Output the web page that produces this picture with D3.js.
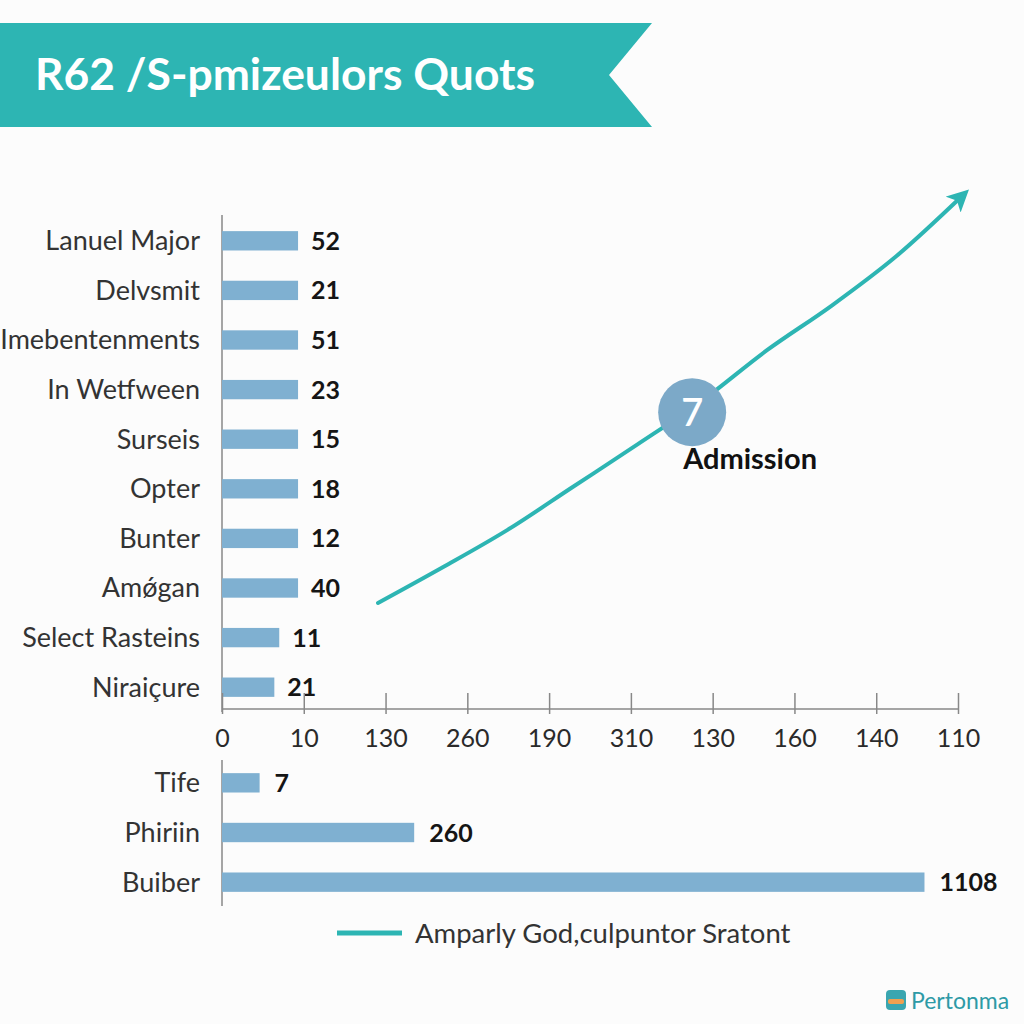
<!DOCTYPE html>
<html>
<head>
<meta charset="utf-8">
<script src="https://cdn.jsdelivr.net/npm/d3@7"></script>
<style>
  html, body { margin: 0; padding: 0; background: #fcfcfc; }
  svg { display: block; font-family: Lato, "Open Sans", sans-serif; }
</style>
</head>
<body>
<svg id="chart" width="1024" height="1024"></svg>
<script>
// ---------- data ----------
const titleText = "R62 /S-pmizeulors Quots";

const topCategories = ["Lanuel Major", "Delvsmit", "Imebentenments", "In Wetfween", "Surseis",
                       "Opter", "Bunter", "Amǿgan", "Select Rasteins", "Niraiçure"];
const topLabels = [52, 21, 51, 23, 15, 18, 12, 40, 11, 21];
// bar extents read in axis-tick units
const topExtents = [0.93, 0.93, 0.93, 0.93, 0.93, 0.93, 0.93, 0.93, 0.70, 0.64];

const bottomCategories = ["Tife", "Phiriin", "Buiber"];
const bottomLabels = [7, 260, 1108];
const bottomExtents = [0.46, 2.35, 8.59];

const tickLabels = ["0", "10", "130", "260", "190", "310", "130", "160", "140", "110"];

const lineSteps = [0, 1, 2, 3, 4, 5, 6, 7, 8, 9];
const lineValues = [0, 8.8, 18, 28.5, 39, 49.8, 62.2, 73.2, 85.4, 100];

const annotationStep = [4.85];
const annotationValue = [47];
const annotationNumber = ["7"];
const annotationText = ["Admission"];

const legendText = "Amparly God,culpuntor Sratont";
const logoText = "Pertonma";

// ---------- styles ----------
const TEAL = "#2db5b3";
const BAR = "#7fb0d1";
const CIRCLE = "#7ca9c8";

const svg = d3.select("#chart");

svg.append("rect").attr("width", 1024).attr("height", 1024).attr("fill", "#fcfcfc");

// ---------- title banner ----------
const banner = d3.path();
banner.moveTo(0, 23);
banner.lineTo(652, 23);
banner.lineTo(609, 75);
banner.lineTo(652, 127);
banner.lineTo(0, 127);
banner.closePath();
svg.append("path").attr("d", banner.toString()).attr("fill", TEAL);

svg.append("text")
  .attr("x", 35).attr("y", 90)
  .attr("fill", "#ffffff")
  .attr("font-weight", 700)
  .attr("font-size", 43)
  .attr("textLength", 500)
  .attr("lengthAdjust", "spacingAndGlyphs")
  .text(titleText);

// ---------- scales ----------
const x = d3.scaleLinear().domain([0, 9]).range([222, 958]);

const yTop = d3.scaleBand().domain(topCategories).range([216, 712]).paddingInner(0.61).paddingOuter(0.305);
const yBot = d3.scaleBand().domain(bottomCategories).range([758, 907]).paddingInner(0.61).paddingOuter(0.305);

// ---------- vertical axis lines ----------
svg.append("line").attr("x1", x(0)).attr("x2", x(0)).attr("y1", 215).attr("y2", 712)
  .attr("stroke", "#888").attr("stroke-width", 1.5);
svg.append("line").attr("x1", x(0)).attr("x2", x(0)).attr("y1", 760).attr("y2", 906)
  .attr("stroke", "#888").attr("stroke-width", 1.5);

// ---------- bars: top group ----------
const topData = topCategories.map((c, i) => ({ c, v: topExtents[i], l: topLabels[i] }));
const gTop = svg.append("g");
gTop.selectAll("rect").data(topData).join("rect")
  .attr("x", x(0))
  .attr("y", d => yTop(d.c))
  .attr("width", d => x(d.v) - x(0))
  .attr("height", yTop.bandwidth())
  .attr("fill", BAR);
gTop.selectAll("text.cat").data(topData).join("text").attr("class", "cat")
  .attr("x", 200).attr("y", d => yTop(d.c) + yTop.bandwidth() / 2)
  .attr("dy", "0.35em").attr("text-anchor", "end")
  .attr("font-size", 27).attr("fill", "#333")
  .text(d => d.c);
gTop.selectAll("text.val").data(topData).join("text").attr("class", "val")
  .attr("x", d => x(d.v) + 13).attr("y", d => yTop(d.c) + yTop.bandwidth() / 2)
  .attr("dy", "0.36em")
  .attr("font-size", 25).attr("font-weight", 700).attr("fill", "#151515")
  .text(d => d.l);

// ---------- x axis ----------
const axis = d3.axisBottom(x)
  .tickValues(d3.range(tickLabels.length))
  .tickFormat(i => tickLabels[i])
  .tickSize(21)
  .tickSizeOuter(0);
const gAxis = svg.append("g").attr("transform", "translate(0,693)").call(axis);
gAxis.select(".domain").remove();
gAxis.selectAll(".tick line").attr("stroke", "#888").attr("stroke-width", 1.5);
gAxis.selectAll(".tick text")
  .attr("y", 54).attr("dy", "0")
  .attr("font-family", "Lato, sans-serif")
  .attr("font-size", 25).attr("fill", "#2a2a2a");
svg.append("line").attr("x1", x(0)).attr("x2", x(9)).attr("y1", 709).attr("y2", 709)
  .attr("stroke", "#888").attr("stroke-width", 1.5);

// ---------- bars: bottom group ----------
const botData = bottomCategories.map((c, i) => ({ c, v: bottomExtents[i], l: bottomLabels[i] }));
const gBot = svg.append("g");
gBot.selectAll("rect").data(botData).join("rect")
  .attr("x", x(0))
  .attr("y", d => yBot(d.c))
  .attr("width", d => x(d.v) - x(0))
  .attr("height", yBot.bandwidth())
  .attr("fill", BAR);
gBot.selectAll("text.cat").data(botData).join("text").attr("class", "cat")
  .attr("x", 200).attr("y", d => yBot(d.c) + yBot.bandwidth() / 2)
  .attr("dy", "0.35em").attr("text-anchor", "end")
  .attr("font-size", 27).attr("fill", "#333")
  .text(d => d.c);
gBot.selectAll("text.val").data(botData).join("text").attr("class", "val")
  .attr("x", d => x(d.v) + 15).attr("y", d => yBot(d.c) + yBot.bandwidth() / 2)
  .attr("dy", "0.36em")
  .attr("font-size", 25).attr("font-weight", 700).attr("fill", "#151515")
  .text(d => d.l);

// ---------- trend line ----------
const lx = d3.scaleLinear().domain([0, 9]).range([378, 961]);
const ly = d3.scaleLinear().domain([0, 100]).range([603, 197]);

svg.append("defs").append("marker")
  .attr("id", "arrow")
  .attr("viewBox", "0 0 10 10")
  .attr("refX", 5).attr("refY", 5)
  .attr("markerWidth", 5.5).attr("markerHeight", 5.5)
  .attr("orient", "auto")
  .append("path").attr("d", "M0,0 L10,5 L0,10 L2.5,5 Z").attr("fill", TEAL);

const lineGen = d3.line().x((d, i) => lx(lineSteps[i])).y(d => ly(d)).curve(d3.curveMonotoneX);
svg.append("path")
  .datum(lineValues)
  .attr("d", lineGen)
  .attr("fill", "none")
  .attr("stroke", TEAL)
  .attr("stroke-width", 4)
  .attr("stroke-linecap", "round")
  .attr("marker-end", "url(#arrow)");

// annotation
const ann = annotationStep.map((s, i) => ({ s, v: annotationValue[i], n: annotationNumber[i], t: annotationText[i] }));
const gAnn = svg.append("g");
gAnn.selectAll("circle").data(ann).join("circle")
  .attr("cx", d => lx(d.s)).attr("cy", d => ly(d.v)).attr("r", 34)
  .attr("fill", CIRCLE);
gAnn.selectAll("text.num").data(ann).join("text").attr("class", "num")
  .attr("x", d => lx(d.s)).attr("y", d => ly(d.v)).attr("dy", "0.36em")
  .attr("text-anchor", "middle").attr("font-size", 38).attr("font-weight", 600).attr("fill", "#fff")
  .text(d => d.n);
gAnn.selectAll("text.lab").data(ann).join("text").attr("class", "lab")
  .attr("x", d => lx(d.s) - 9).attr("y", d => ly(d.v) + 57)
  .attr("font-size", 29).attr("font-weight", 700).attr("fill", "#111")
  .text(d => d.t);

// ---------- legend ----------
svg.append("line").attr("x1", 337).attr("x2", 402).attr("y1", 933).attr("y2", 933)
  .attr("stroke", TEAL).attr("stroke-width", 5);
svg.append("text").attr("x", 415).attr("y", 933).attr("dy", "0.35em")
  .attr("font-size", 27.5).attr("fill", "#333").text(legendText);

// ---------- logo ----------
const gLogo = svg.append("g");
gLogo.append("rect").attr("x", 886).attr("y", 990).attr("width", 20).attr("height", 20).attr("rx", 4)
  .attr("fill", "#3aa6b0");
gLogo.append("rect").attr("x", 888).attr("y", 999).attr("width", 16).attr("height", 5).attr("rx", 2)
  .attr("fill", "#f0a050");
gLogo.append("text").attr("x", 911).attr("y", 1009)
  .attr("font-size", 23).attr("fill", "#2e9aa6").text(logoText);
</script>
</body>
</html>
